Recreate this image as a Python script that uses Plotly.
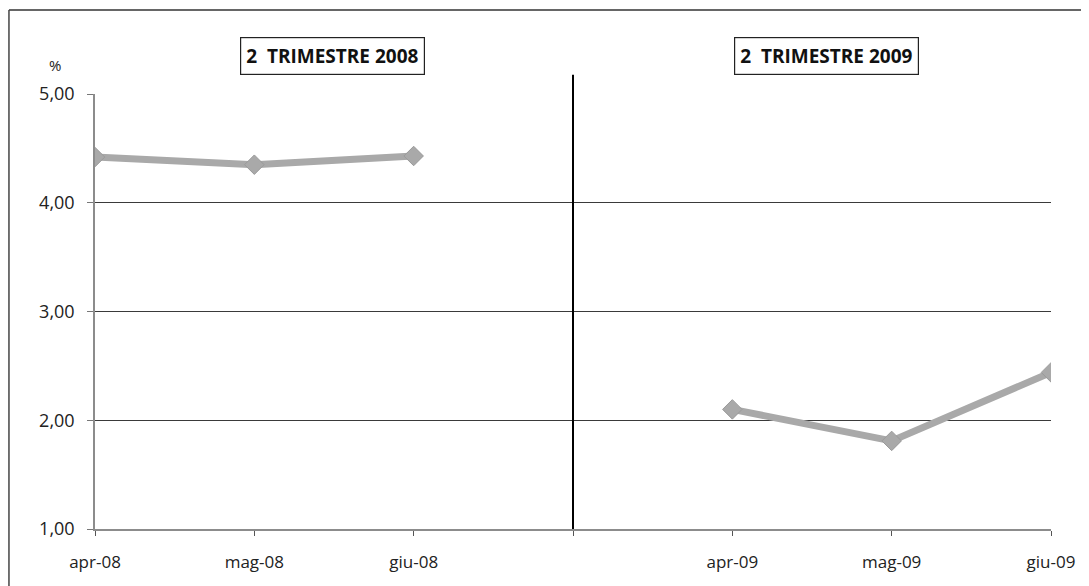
import plotly.graph_objects as go

# ---- data ----
months = ["apr-08", "mag-08", "giu-08", " ", "apr-09", "mag-09", "giu-09"]
rates = [4.42, 4.35, 4.43, None, 2.10, 1.81, 2.44]
y_ticks = [1, 2, 3, 4, 5]
panel_titles = ["2  TRIMESTRE 2008", "2  TRIMESTRE 2009"]
divider_category = " "
unit_label = "%"

FONT = "Open Sans"
GREY = "#a9a9a9"

fig = go.Figure()
fig.add_trace(go.Scatter(
    x=months, y=rates, mode="lines+markers",
    line=dict(color=GREY, width=7),
    marker=dict(symbol="diamond", size=15, color=GREY,
                line=dict(color="#9a9a9a", width=1)),
    connectgaps=False, showlegend=False, hoverinfo="x+y",
))

fig.update_layout(
    width=1089, height=586,
    margin=dict(l=87, r=46, t=86, b=65),
    paper_bgcolor="white", plot_bgcolor="white",
    separators=",.",
    font=dict(family=FONT, size=17, color="#222222"),
    xaxis=dict(
        type="category", categoryorder="array", categoryarray=months,
        range=[0, len(months) - 1],
        showgrid=False, showline=True, linecolor="#8c8c8c", linewidth=1.5,
        ticks="outside", ticklen=5, tickcolor="#555555",
        ticklabelstandoff=12,
        tickfont=dict(family=FONT, size=17, color="#222222"),
        zeroline=False, fixedrange=True,
    ),
    yaxis=dict(
        range=[1, 5], tickvals=y_ticks, tickformat=".2f",
        showgrid=True, gridcolor="#3a3a3a", gridwidth=1,
        showline=True, linecolor="#8c8c8c", linewidth=1.5,
        ticks="outside", ticklen=6, tickcolor="#777777",
        ticklabelstandoff=9,
        tickfont=dict(family=FONT, size=18, color="#222222"),
        zeroline=False, fixedrange=True,
    ),
)

# divider between the two quarters
fig.add_shape(type="line", xref="x", yref="paper",
              x0=divider_category, x1=divider_category, y0=0, y1=1.044,
              line=dict(color="black", width=2))

# outer frame (top, left)
fig.add_shape(type="line", xref="paper", yref="paper",
              x0=-0.090, x1=1.06, y0=1.193, y1=1.193,
              line=dict(color="#333333", width=1.5))
fig.add_shape(type="line", xref="paper", yref="paper",
              x0=-0.090, x1=-0.090, y0=1.193, y1=-0.14,
              line=dict(color="#444444", width=1.5))

# panel titles
for title, xc in zip(panel_titles, [0.248, 0.765]):
    fig.add_annotation(
        text="<b>" + title + "</b>", xref="paper", yref="paper",
        x=xc, y=1.087, xanchor="center", yanchor="middle", showarrow=False,
        font=dict(family=FONT, size=19, color="#111111"),
        bordercolor="#222222", borderwidth=1.2, borderpad=5, bgcolor="white",
    )

fig.add_annotation(text=unit_label, xref="paper", yref="paper",
                   x=-0.042, y=1.067, xanchor="center", yanchor="middle",
                   showarrow=False, font=dict(family=FONT, size=15, color="#222222"))

fig.write_html("out.html")
